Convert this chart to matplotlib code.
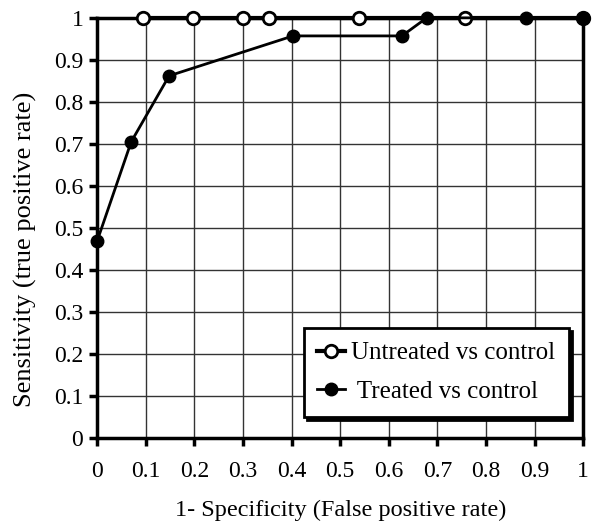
import numpy as np
import matplotlib
matplotlib.use('Agg')
import matplotlib.pyplot as plt

plt.rcParams['font.family'] = ['Liberation Serif', 'DejaVu Serif']

# ROC points
untreated_x = [0.094, 0.198, 0.299, 0.354, 0.539, 0.756, 1.0]
untreated_y = [1, 1, 1, 1, 1, 1, 1]
treated_x = [0.0, 0.070, 0.148, 0.403, 0.627, 0.678, 0.883, 1.0]
treated_y = [0.469, 0.705, 0.862, 0.957, 0.957, 1.0, 1.0, 1.0]
ticks = np.round(np.arange(0, 1.01, 0.1), 1)
tick_labels = ['0' if t == 0 else '1' if t == 1 else f'{t:g}' for t in ticks]

fig = plt.figure(figsize=(6, 5.25), dpi=100)
ax = fig.add_axes([0.162, 0.166, 0.810, 0.800])

ax.plot(untreated_x, untreated_y, color='black', lw=3, marker='o', ms=9,
        mfc='white', mec='black', mew=2, label='Untreated vs control',
        zorder=4, clip_on=False)
ax.plot(treated_x, treated_y, color='black', lw=2, marker='o', ms=9,
        mfc='black', mec='black', label=' Treated vs control',
        zorder=5, clip_on=False)

ax.set_xlim(0, 1)
ax.set_ylim(0, 1)
ax.set_xticks(ticks)
ax.set_yticks(ticks)
ax.set_xticklabels(tick_labels)
ax.set_yticklabels(tick_labels)
ax.grid(True, color='#333333', lw=1)
ax.set_axisbelow(True)
for sp in ax.spines.values():
    sp.set_linewidth(2.5)
ax.tick_params(direction='out', length=6, width=2.5)
ax.tick_params(axis='x', labelsize=17, pad=11)
ax.tick_params(axis='y', labelsize=17, pad=4)

ax.set_xlabel('1- Specificity (False positive rate)', fontsize=17.5)
ax.xaxis.set_label_coords(0.5, -0.148)
ax.set_ylabel('Sensitivity (true positive rate)', fontsize=19)
ax.yaxis.set_label_coords(-0.123, 0.448)

leg = ax.legend(loc='lower right', bbox_to_anchor=(0.971, 0.05), fontsize=18,
                frameon=True, fancybox=False, shadow={'color': 'black', 'alpha': 1},
                edgecolor='black', handlelength=1.1, handletextpad=0.25,
                borderpad=0.55, labelspacing=0.65, borderaxespad=0)
leg.get_frame().set_linewidth(2)
leg.get_frame().set_alpha(1)
leg.set_zorder(10)

fig.savefig('out.png', dpi=100, facecolor='white')
